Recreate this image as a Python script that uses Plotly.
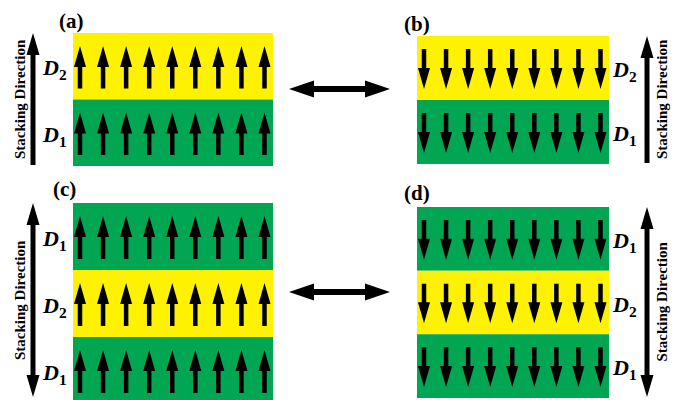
import plotly.graph_objects as go

# Layer sequence of each stack, listed from top to bottom
panel_tags = ["(a)", "(b)", "(c)", "(d)"]
layer_names = [["D2", "D1"], ["D2", "D1"], ["D1", "D2", "D1"], ["D1", "D2", "D1"]]
# Orientation of the moments in every layer (+1 up, -1 down)
moment_sign = [1, -1, 1, -1]
moments_per_layer = [9, 9, 9, 9]
# Stacking-direction arrow: single head for bilayers, double head for trilayers
stack_heads = [1, 1, 2, 2]
stack_label = "Stacking Direction"

layer_fill = {"D1": "#00A651", "D2": "#FFF200"}
FONT = "Times New Roman, Liberation Serif, Times, serif"

# Page geometry (pixels, y grows downward)
frames = [
    dict(x0=73, x1=273, y0=33, y1=166, side="left", tag=(71.5, 21)),
    dict(x0=417, x1=609, y0=36, y1=164, side="right", tag=(417, 24)),
    dict(x0=73, x1=273, y0=203, y1=404, side="left", tag=(64, 189)),
    dict(x0=417, x1=609, y0=207, y1=398, side="right", tag=(417, 193)),
]
swap_rows = [89, 292]


def arrow_path(a_tail, a_tip, c, shaft, head_w, head_len, heads=1, vertical=True):
    """Filled arrow polygon along one axis; heads=2 puts a head on both ends."""
    d = 1 if a_tip > a_tail else -1
    tip_base = a_tip - d * head_len
    pts = []
    if heads == 2:
        tail_base = a_tail + d * head_len
        pts += [(c, a_tail), (c - head_w / 2, tail_base), (c - shaft / 2, tail_base)]
    else:
        pts += [(c - shaft / 2, a_tail)]
    pts += [(c - shaft / 2, tip_base), (c - head_w / 2, tip_base), (c, a_tip),
            (c + head_w / 2, tip_base), (c + shaft / 2, tip_base)]
    if heads == 2:
        pts += [(c + shaft / 2, tail_base), (c + head_w / 2, tail_base)]
    else:
        pts += [(c + shaft / 2, a_tail)]
    if vertical:
        xy = [(p[0], p[1]) for p in pts]
    else:
        xy = [(p[1], p[0]) for p in pts]
    return "M " + " L ".join(f"{x:.2f},{y:.2f}" for x, y in xy) + " Z"


def solid(path):
    return dict(type="path", path=path, xref="x", yref="y",
                fillcolor="black", line=dict(width=0), layer="above")


shapes = []
annotations = []

for k, fr in enumerate(frames):
    names = layer_names[k]
    n_layers = len(names)
    h = (fr["y1"] - fr["y0"]) / n_layers
    n = moments_per_layer[k]
    first, last = fr["x0"] + 7, fr["x1"] - 8.5
    step = (last - first) / (n - 1)
    for j, name in enumerate(names):
        top = fr["y0"] + j * h
        bot = top + h
        shapes.append(dict(type="rect", xref="x", yref="y", x0=fr["x0"], x1=fr["x1"],
                           y0=top, y1=bot, fillcolor=layer_fill[name],
                           line=dict(width=0), layer="below"))
        # spin arrows
        a_top, a_bot = top + 13, bot - 11
        for i in range(n):
            xc = first + i * step
            if moment_sign[k] > 0:
                p = arrow_path(a_bot, a_top, xc, 4.5, 12, 21)
            else:
                p = arrow_path(a_top, a_bot, xc, 4.5, 12, 21)
            shapes.append(solid(p))
        # layer label
        lab = f"<b><i>D</i><sub>{name[1:]}</sub></b>"
        if fr["side"] == "left":
            lx, anchor = fr["x0"] - 4, "right"
        else:
            lx, anchor = fr["x1"] + 1, "left"
        annotations.append(dict(x=lx, y=(top + bot) / 2 + 3, xref="x", yref="y", text=lab,
                                showarrow=False, xanchor=anchor, yanchor="middle",
                                font=dict(family=FONT, size=22, color="black")))

    # stacking-direction arrow with its caption
    s_top, s_bot = fr["y0"], min(fr["y1"], 398) - 1
    if fr["side"] == "left":
        sx, tx = 33, 20
    else:
        sx, tx = 647, 661.5
    shapes.append(solid(arrow_path(s_bot, s_top, sx, 5, 13, 22, heads=stack_heads[k])))
    annotations.append(dict(x=tx, y=(s_top + s_bot) / 2, xref="x", yref="y",
                            text=f"<b>{stack_label}</b>", textangle=-90, showarrow=False,
                            xanchor="center", yanchor="middle",
                            font=dict(family=FONT, size=15, color="black")))

    # panel tag
    annotations.append(dict(x=fr["tag"][0], y=fr["tag"][1], xref="x", yref="y",
                            text=f"<b>{panel_tags[k]}</b>", showarrow=False,
                            xanchor="center", yanchor="middle",
                            font=dict(family=FONT, size=21, color="black")))

# two-headed arrows linking the reversed configurations
for row in swap_rows:
    shapes.append(solid(arrow_path(289, 390, row, 6, 17, 25, heads=2, vertical=False)))

fig = go.Figure()
fig.update_layout(
    width=680, height=400,
    margin=dict(l=0, r=0, t=0, b=0),
    paper_bgcolor="white", plot_bgcolor="white",
    xaxis=dict(range=[0, 680], visible=False, fixedrange=True),
    yaxis=dict(range=[400, 0], visible=False, fixedrange=True),
    shapes=shapes, annotations=annotations, showlegend=False,
)
fig.write_html("out.html", config=dict(displayModeBar=False))
